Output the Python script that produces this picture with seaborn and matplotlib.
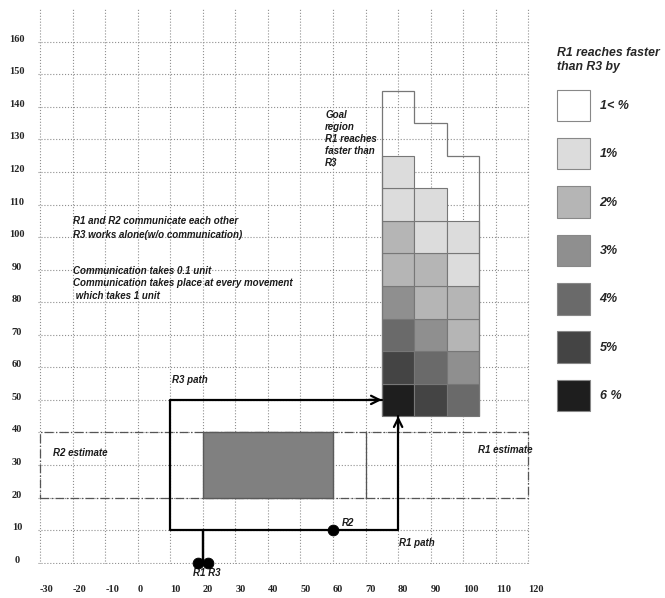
import numpy as np
import matplotlib
matplotlib.use("Agg")
import matplotlib.pyplot as plt
from matplotlib.patches import Rectangle, Patch
import seaborn as sns


# Data ........................................................................

x_ticks = [-30, -20, -10, 0, 10, 20, 30, 40, 50, 60, 70, 80, 90, 100, 110, 120]
y_ticks = [0, 10, 20, 30, 40, 50, 60, 70, 80, 90, 100, 110, 120, 130, 140, 150, 160]

# Goal region: three columns of 10x10 cells, rows from y = 45 upwards
goal_x_edges = [75, 85, 95, 105]
goal_y_edges = [45, 55, 65, 75, 85, 95, 105, 115, 125]
goal_top = [145, 135, 125]          # top of the region in each column
level_col1 = [6, 5, 4, 3, 2, 2, 1, 1]
level_col2 = [5, 4, 3, 2, 2, 1, 1, 0]
level_col3 = [4, 3, 2, 2, 1, 1, 0, 0]

# Legend
level_labels = ["1< %", "1%", "2%", "3%", "4%", "5%", "6 %"]
level_colors = ["#ffffff", "#dcdcdc", "#b5b5b5", "#8f8f8f", "#6a6a6a", "#444444", "#1e1e1e"]

# Robots and paths
robot_names = ["R1", "R3", "R2"]
robot_x = [18.5, 21.5, 60]
robot_y = [0, 0, 10]
r1_path_x = [20, 20, 80, 80]
r1_path_y = [0, 10, 10, 45]
r3_path_x = [20, 20, 10, 10, 75]
r3_path_y = [0, 10, 10, 50, 50]

# Position estimates (x range, y range)
r2_est_x = [-30, 70]
r1_est_x = [70, 120]
est_y = [20, 40]
overlap_x = [20, 60]


# Figure ......................................................................

sns.set_style("white")
fig = plt.figure(figsize = (6.65, 5.98), dpi = 100)
ax = fig.add_axes([0.0578, 0.0564, 0.7391, 0.9281])
ax.set_xlim(-30.5, 120.5)
ax.set_ylim(-0.5, 170)
for s in ax.spines.values():
    s.set_visible(False)

ax.set_xticks(x_ticks, labels = [str(v) for v in x_ticks])
ax.set_yticks(y_ticks, labels = [str(v) for v in y_ticks])
ax.tick_params(length = 0)
ax.tick_params(axis = "x", pad = 15)
ax.tick_params(axis = "y", pad = 15.5)
for lbl in ax.get_xticklabels():
    lbl.set_fontfamily("Liberation Serif")
    lbl.set_fontweight("bold")
    lbl.set_fontsize(7.5)
    lbl.set_ha("left")
for lbl in ax.get_yticklabels():
    lbl.set_fontfamily("Liberation Serif")
    lbl.set_fontweight("bold")
    lbl.set_fontsize(7.5)
    lbl.set_ha("center")
    lbl.set_va("baseline")

ax.grid(True, linestyle = ":", color = "#8f8f8f", linewidth = 0.8)
ax.set_axisbelow(True)

# Estimate boxes (dash-dot)
for ex in [r2_est_x, r1_est_x]:
    ax.add_patch(Rectangle((ex[0], est_y[0]), ex[1] - ex[0], est_y[1] - est_y[0],
                           fill = False, edgecolor = "#555555", linewidth = 0.9,
                           linestyle = (0, (7, 2, 1, 2)), zorder = 2))
ax.add_patch(Rectangle((overlap_x[0], est_y[0]), overlap_x[1] - overlap_x[0], est_y[1] - est_y[0],
                       facecolor = "#808080", edgecolor = "#5a5a5a", linewidth = 1, zorder = 3))

# Goal region cells (one bar per shaded cell)
for i, col in enumerate([level_col1, level_col2, level_col3]):
    left = goal_x_edges[i]
    width = goal_x_edges[i + 1] - left
    for j, lev in enumerate(col):
        if lev == 0:
            continue
        bottom = goal_y_edges[j]
        ax.bar(left, goal_y_edges[j + 1] - bottom, width = width, bottom = bottom, align = "edge",
               color = level_colors[lev], edgecolor = "#777777", linewidth = 0.8, zorder = 3)
ax.stairs(goal_top, goal_x_edges, baseline = goal_y_edges[0], fill = False,
          color = "#777777", linewidth = 0.9, zorder = 4)

# Paths
ax.plot(r3_path_x, r3_path_y, color = "black", linewidth = 1.6, zorder = 5)
ax.plot(r1_path_x, r1_path_y, color = "black", linewidth = 1.6, zorder = 5)
ax.annotate("", xy = (r3_path_x[-1], r3_path_y[-1]), xytext = (r3_path_x[-1] - 4, r3_path_y[-1]),
            arrowprops = dict(arrowstyle = "->, head_length=0.6, head_width=0.3", lw = 1.6,
                              color = "black", shrinkA = 0, shrinkB = 0), zorder = 6)
ax.annotate("", xy = (r1_path_x[-1], r1_path_y[-1]), xytext = (r1_path_x[-1], r1_path_y[-1] - 4),
            arrowprops = dict(arrowstyle = "->, head_length=0.6, head_width=0.3", lw = 1.6,
                              color = "black", shrinkA = 0, shrinkB = 0), zorder = 6)

# Robots
sns.scatterplot(x = robot_x, y = robot_y, color = "black", s = 60, edgecolor = "black",
                ax = ax, zorder = 7, clip_on = False, legend = False)

# Annotations
txt = dict(fontfamily = "Liberation Sans", fontstyle = "italic", fontweight = "bold",
           fontsize = 7.0, color = "#1a1a1a")
ax.text(-20, 102.8, "R1 and R2 communicate each other\nR3 works alone(w/o communication)",
        va = "center", linespacing = 1.4, **txt)
ax.text(-20, 85.8, "Communication takes 0.1 unit\nCommunication takes place at every movement\n which takes 1 unit",
        va = "center", linespacing = 1.35, **txt)
ax.text(57.6, 130.1, "Goal\nregion\nR1 reaches\nfaster than\nR3", va = "center", linespacing = 1.25, **txt)
ax.text(10.5, 56.1, "R3 path", va = "center", **txt)
ax.text(-26, 33.7, "R2 estimate", va = "center", **txt)
ax.text(104.6, 34.6, "R1 estimate", va = "center", **txt)
ax.text(62.7, 12.3, "R2", va = "center", **txt)
ax.text(80.3, 6, "R1 path", va = "center", **txt)
ax.text(21.3, -3.3, "R1 R3", va = "center", ha = "center", **txt)

# Legend
handles = [Patch(facecolor = c, edgecolor = "#888888", linewidth = 0.8) for c in level_colors]
leg = fig.legend(handles, level_labels, loc = "upper left", bbox_to_anchor = (0.8275, 0.932),
                 frameon = False, title = "R1 reaches faster\nthan R3 by",
                 prop = dict(family = "Liberation Sans", style = "italic", weight = "bold", size = 9),
                 handlelength = 2.65, handleheight = 3.5, labelspacing = 1.35, handletextpad = 0.8,
                 borderpad = 0, alignment = "left")
leg.get_title().set_fontproperties(dict(family = "Liberation Sans", style = "italic", weight = "bold", size = 8.8))

fig.savefig("out.png", dpi = 100)
